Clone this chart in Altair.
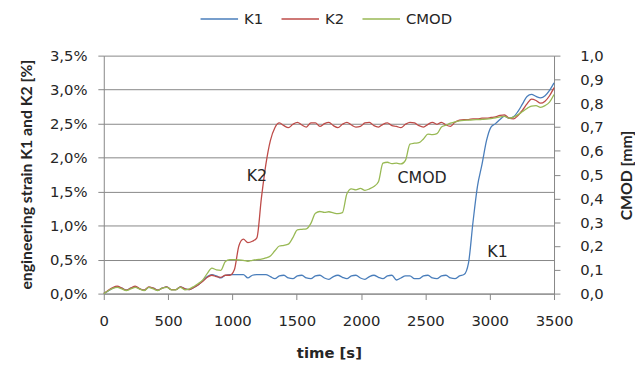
import altair as alt
import pandas as pd

# ---------------- data ----------------
time_s = list(range(0, 3501, 35))

k1 = [
    0.00, 0.04, 0.08, 0.10, 0.08, 0.05, 0.08, 0.10, 0.07, 0.05,
    0.09, 0.08, 0.05, 0.08, 0.10, 0.06, 0.06, 0.10, 0.07, 0.06,
    0.09, 0.13, 0.19, 0.25, 0.28, 0.26, 0.23, 0.27, 0.28, 0.28,
    0.28, 0.28, 0.23, 0.27, 0.28, 0.28, 0.28, 0.25, 0.22, 0.26,
    0.27, 0.23, 0.22, 0.26, 0.27, 0.23, 0.22, 0.26, 0.27, 0.23,
    0.21, 0.25, 0.27, 0.24, 0.22, 0.26, 0.27, 0.23, 0.21, 0.25,
    0.27, 0.24, 0.22, 0.26, 0.27, 0.20, 0.23, 0.26, 0.26, 0.22,
    0.22, 0.26, 0.27, 0.23, 0.22, 0.26, 0.27, 0.23, 0.22, 0.26,
    0.28, 0.45, 1.05, 1.58, 1.90, 2.25, 2.45, 2.50, 2.56, 2.61,
    2.58, 2.60, 2.68, 2.79, 2.90, 2.93, 2.90, 2.88, 2.91, 2.99,
    3.10,
]

k2 = [
    0.00, 0.05, 0.09, 0.11, 0.08, 0.05, 0.08, 0.11, 0.07, 0.05,
    0.10, 0.08, 0.05, 0.08, 0.10, 0.06, 0.06, 0.10, 0.07, 0.06,
    0.09, 0.13, 0.18, 0.24, 0.27, 0.25, 0.24, 0.27, 0.27, 0.35,
    0.70, 0.80, 0.75, 0.77, 0.82, 1.40, 1.90, 2.25, 2.44, 2.51,
    2.47, 2.44, 2.49, 2.52, 2.48, 2.45, 2.51, 2.51, 2.46, 2.50,
    2.52, 2.47, 2.44, 2.49, 2.52, 2.48, 2.45, 2.46, 2.51, 2.52,
    2.47, 2.45, 2.49, 2.51, 2.47, 2.46, 2.44, 2.49, 2.52, 2.51,
    2.47, 2.45, 2.49, 2.52, 2.49, 2.52, 2.48, 2.46, 2.52, 2.55,
    2.56, 2.56, 2.57, 2.57, 2.58, 2.58, 2.59, 2.60, 2.62, 2.63,
    2.58, 2.57, 2.62, 2.70, 2.79, 2.86, 2.84, 2.80, 2.83, 2.91,
    3.03,
]

cmod = [
    0.000, 0.012, 0.022, 0.026, 0.020, 0.013, 0.020, 0.026, 0.019, 0.013,
    0.026, 0.020, 0.013, 0.023, 0.026, 0.016, 0.016, 0.026, 0.016, 0.020,
    0.030, 0.042, 0.058, 0.085, 0.107, 0.100, 0.098, 0.135, 0.143, 0.143,
    0.142, 0.140, 0.136, 0.140, 0.143, 0.145, 0.150, 0.158, 0.180, 0.200,
    0.203, 0.208, 0.235, 0.268, 0.270, 0.272, 0.295, 0.338, 0.345, 0.341,
    0.344, 0.339, 0.336, 0.340, 0.420, 0.440, 0.436, 0.442, 0.434, 0.440,
    0.450, 0.470, 0.548, 0.552, 0.546, 0.548, 0.545, 0.560, 0.628, 0.632,
    0.634, 0.650, 0.670, 0.668, 0.672, 0.700, 0.708, 0.716, 0.722, 0.726,
    0.728, 0.729, 0.730, 0.731, 0.732, 0.733, 0.735, 0.738, 0.743, 0.745,
    0.737, 0.742, 0.752, 0.765, 0.778, 0.788, 0.790, 0.783, 0.790, 0.805,
    0.837,
]

series_names = ["K1", "K2", "CMOD"]
series_colors = ["#4A7EBB", "#BE4B48", "#98B954"]

label_text = ["K2", "CMOD", "K1"]
label_time = [1190, 2475, 3061]
label_strain = [1.73, 1.70, 0.61]

x_ticks = [0, 500, 1000, 1500, 2000, 2500, 3000, 3500]
left_ticks = [0.0, 0.5, 1.0, 1.5, 2.0, 2.5, 3.0, 3.5]
right_ticks = [0.0, 0.1, 0.2, 0.3, 0.4, 0.5, 0.6, 0.7, 0.8, 0.9, 1.0]

# ---------------- tables ----------------
n = len(time_s)
strain_df = pd.DataFrame({
    "time": time_s + time_s,
    "value": k1 + k2,
    "series": ["K1"] * n + ["K2"] * n,
})
cmod_df = pd.DataFrame({"time": time_s, "value": cmod, "series": ["CMOD"] * n})
label_df = pd.DataFrame({"time": label_time, "value": label_strain, "text": label_text})

GRAY = "#868686"
TXT = "#262626"
FONT = "DejaVu Sans"

x_enc = alt.X(
    "time:Q",
    scale=alt.Scale(domain=[0, 3500], nice=False),
    axis=alt.Axis(
        values=x_ticks, title="time [s]", grid=False, format="d",
        labelFont=FONT, labelFontSize=15, labelColor=TXT, labelPadding=14,
        labelOverlap=False, labelFlush=False,
        tickSize=6, tickColor=GRAY, domainColor=GRAY,
        titleFont=FONT, titleFontSize=15, titleFontWeight="bold", titleColor=TXT,
        titleX=228, titleY=60, titleAlign="center", titleBaseline="middle",
    ),
)

y_left = alt.Y(
    "value:Q",
    scale=alt.Scale(domain=[0, 3.5], nice=False),
    axis=alt.Axis(
        values=left_ticks, orient="left",
        title="engineering strain K1 and K2 [%]",
        labelExpr="replace(format(datum.value, '.1f'), '.', ',') + '%'",
        labelFont=FONT, labelFontSize=15, labelColor=TXT, labelPadding=11,
        labelOverlap=False, labelFlush=False,
        tickSize=6, tickColor=GRAY, domainColor=GRAY,
        grid=True, gridColor=GRAY, gridWidth=1,
        titleFont="Lato", titleFontSize=16, titleFontWeight="bold",
        titleColor=TXT, titleAngle=270, titleX=-78, titleY=120,
        titleAlign="center", titleBaseline="middle",
    ),
)

color_enc = alt.Color(
    "series:N",
    scale=alt.Scale(domain=series_names, range=series_colors),
    legend=alt.Legend(
        title=None, orient="none", legendX=97, legendY=-57,
        direction="horizontal", symbolType="stroke", symbolSize=1444,
        symbolStrokeWidth=1.5, labelFont=FONT, labelFontSize=15,
        labelColor=TXT, columnPadding=15, labelOffset=5,
    ),
)

strain_lines = alt.Chart(strain_df).mark_line(
    strokeWidth=1.3, interpolate="monotone"
).encode(
    x=x_enc,
    y=y_left,
    color=color_enc,
    detail="series:N",
)

labels = alt.Chart(label_df).mark_text(
    font=FONT, fontSize=16, color=TXT, align="center", baseline="middle"
).encode(
    x=x_enc,
    y=y_left,
    text="text:N",
)

cmod_line = alt.Chart(cmod_df).mark_line(
    strokeWidth=1.3, interpolate="monotone"
).encode(
    x=x_enc,
    y=alt.Y(
        "value:Q",
        scale=alt.Scale(domain=[0, 1.0], nice=False),
        axis=alt.Axis(
            values=right_ticks, orient="right", title="CMOD [mm]", grid=False,
            labelExpr="replace(format(datum.value, '.1f'), '.', ',')",
            labelFont=FONT, labelFontSize=15, labelColor=TXT, labelPadding=20,
            labelOverlap=False, labelFlush=False,
            tickSize=6, tickColor=GRAY, domainColor=GRAY,
            titleFont="Lato", titleFontSize=16, titleFontWeight="bold",
            titleColor=TXT, titleAngle=270, titleX=73, titleY=121,
            titleAlign="center", titleBaseline="middle",
        ),
    ),
    color=color_enc,
)

chart = alt.layer(
    alt.layer(strain_lines, labels),
    cmod_line,
).resolve_scale(
    y="independent"
).properties(
    width=456,
    height=241,
    autosize=alt.AutoSizeParams(type="none"),
    padding={"left": 97, "top": 46, "right": 82, "bottom": 65},
).configure_view(
    stroke=None
)

chart.save("out.html", embed_options={"renderer": "svg", "actions": False})
